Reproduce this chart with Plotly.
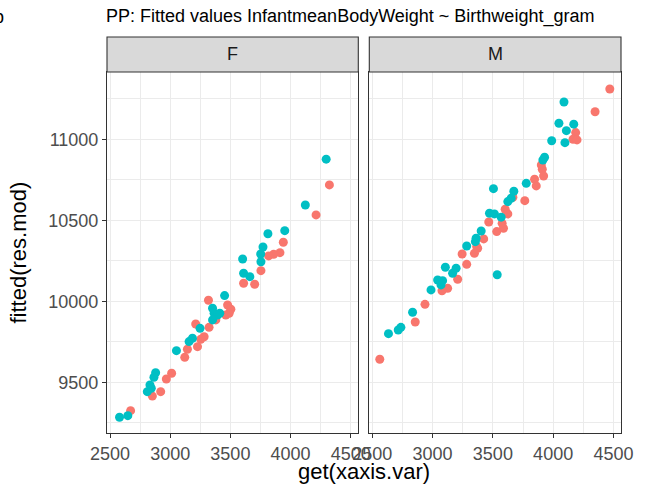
import plotly.graph_objects as go

# ---- data ----
panels = ["F", "M"]

F_teal_x = [4296, 4123, 3952, 3812, 3771, 3752, 3602, 3754, 3610, 3662, 3452, 3352, 3365, 3393, 3412, 3352,
            3248, 3185, 3157, 3052, 2879, 2865, 2832, 2810, 2843, 2648, 2579]
F_teal_y = [10877, 10594, 10436, 10417, 10335, 10292, 10261, 10244, 10173, 10152, 10035, 9957, 9926, 9915, 9926, 9885,
            9833, 9772, 9751, 9695, 9559, 9531, 9483, 9442, 9463, 9294, 9284]
F_sal_x = [4323, 4212, 3940, 3912, 3860, 3818, 3754, 3610, 3702, 3318, 3477, 3504, 3490, 3462, 3379, 3212,
           3323, 3282, 3254, 3227, 3143, 3121, 3012, 2968, 2921, 2852, 2671]
F_sal_y = [10718, 10533, 10364, 10300, 10290, 10280, 10189, 10111, 10105, 10006, 9977, 9951, 9926, 9915, 9885, 9860,
           9839, 9781, 9765, 9720, 9704, 9654, 9556, 9520, 9442, 9415, 9325]

M_teal_x = [4090, 4048, 4171, 4110, 3988, 4098, 3929, 3915, 3777, 3505, 3674, 3652, 3624, 3472, 3513, 3569,
            3403, 3361, 3283, 3355, 3536, 3106, 3195, 3166, 3042, 3083, 3070, 2987, 2834, 2737, 2715, 2634]
M_teal_y = [11230, 11099, 11093, 11053, 10991, 10979, 10889, 10872, 10728, 10695, 10679, 10636, 10615, 10543, 10539, 10519,
            10434, 10389, 10341, 10368, 10164, 10210, 10204, 10173, 10131, 10127, 10101, 10070, 9932, 9839, 9823, 9800]
M_sal_x = [4470, 4348, 4187, 4165, 4198, 3902, 3910, 3921, 3846, 3860, 3666, 3765, 3602, 3624, 3466, 3577,
           3588, 3532, 3424, 3366, 3374, 3347, 3245, 3283, 3208, 3125, 3078, 2937, 2856, 2562]
M_sal_y = [11310, 11170, 11041, 11000, 10996, 10841, 10815, 10773, 10753, 10712, 10642, 10621, 10568, 10539, 10489, 10481,
           10451, 10430, 10385, 10337, 10327, 10296, 10292, 10228, 10136, 10080, 10065, 9981, 9872, 9642]

x_ticks = [2500, 3000, 3500, 4000, 4500]
y_ticks = [9500, 10000, 10500, 11000]

title_text = "PP: Fitted values InfantmeanBodyWeight ~ Birthweight_gram"
x_title = "get(xaxis.var)"
y_title = "fitted(res.mod)"

SAL = "#F8766D"
TEAL = "#00BFC4"
FONT = "Liberation Sans, Arial, sans-serif"

fig = go.Figure()
series = [
    ("x", "y", F_sal_x, F_sal_y, SAL),
    ("x", "y", F_teal_x, F_teal_y, TEAL),
    ("x2", "y2", M_sal_x, M_sal_y, SAL),
    ("x2", "y2", M_teal_x, M_teal_y, TEAL),
]
for xa, ya, xs, ys, c in series:
    fig.add_trace(go.Scatter(x=xs, y=ys, xaxis=xa, yaxis=ya, mode="markers",
                             marker=dict(color=c, size=9, line=dict(width=0)),
                             showlegend=False, hoverinfo="x+y"))

W, H = 645, 493
ml, mr, mt, mb = 107, 24, 37, 60
pw = W - ml - mr
ph = H - mt - mb
f_dom = [0, (358.3 - ml) / pw]
m_dom = [(369.3 - ml) / pw, 1]
y_top = (433 - 72) / ph

xr = [2475, 4563]
yr = [9187, 11415]
TICKSIZE = 18

def xaxis_cfg(dom, anchor):
    return dict(domain=dom, range=xr, anchor=anchor, tickvals=x_ticks, ticktext=[str(v) for v in x_ticks],
                showgrid=True, gridcolor="#EBEBEB", gridwidth=1.1,
                minor=dict(dtick=250, tick0=2500, showgrid=True, gridcolor="#EBEBEB", gridwidth=0.6, ticks=""),
                zeroline=False, showline=True, mirror=True, linecolor="#333333", linewidth=1.1,
                ticks="outside", ticklen=4, tickwidth=1.1, tickcolor="#333333",
                tickfont=dict(family=FONT, size=TICKSIZE, color="#4D4D4D"))

def yaxis_cfg(anchor, show_labels):
    return dict(domain=[0, y_top], range=yr, anchor=anchor, tickvals=y_ticks,
                ticktext=[str(v) for v in y_ticks],
                showticklabels=show_labels,
                showgrid=True, gridcolor="#EBEBEB", gridwidth=1.1,
                minor=dict(dtick=250, tick0=9250, showgrid=True, gridcolor="#EBEBEB", gridwidth=0.6, ticks=""),
                zeroline=False, showline=True, mirror=True, linecolor="#333333", linewidth=1.1,
                ticks="outside" if show_labels else "", ticklen=4, tickwidth=1.1, tickcolor="#333333",
                tickfont=dict(family=FONT, size=TICKSIZE, color="#4D4D4D"))

fig.update_layout(
    width=W, height=H,
    margin=dict(l=ml, r=mr, t=mt, b=mb),
    paper_bgcolor="white", plot_bgcolor="white",
    font=dict(family=FONT, color="black"),
    xaxis=xaxis_cfg(f_dom, "y"),
    xaxis2=xaxis_cfg(m_dom, "y2"),
    yaxis=yaxis_cfg("x", True),
    yaxis2=yaxis_cfg("x2", False),
)

# strips
for dom, lab in zip([f_dom, m_dom], panels):
    fig.add_shape(type="rect", xref="paper", yref="paper", x0=dom[0], x1=dom[1], y0=y_top, y1=1,
                  fillcolor="#D9D9D9", line=dict(color="#333333", width=1.1), layer="above")
    fig.add_annotation(xref="paper", yref="paper", x=(dom[0] + dom[1]) / 2, y=(y_top + 1) / 2,
                       text=lab, showarrow=False, xanchor="center", yanchor="middle",
                       font=dict(family=FONT, size=TICKSIZE, color="#1A1A1A"))

# title
fig.add_annotation(xref="paper", yref="paper", x=-3 / pw, y=1 + 20 / ph, text=title_text, showarrow=False,
                   xanchor="left", yanchor="middle", font=dict(family=FONT, size=18, color="black"))
# tag (cut off at left edge)
fig.add_annotation(xref="paper", yref="paper", x=(6 - ml) / pw, y=1 + 20 / ph, text="b", showarrow=False,
                   xanchor="right", yanchor="middle", font=dict(family=FONT, size=18, color="black"))
# axis titles
fig.add_annotation(xref="paper", yref="paper", x=0.5, y=-(472 - 433) / ph, text=x_title, showarrow=False,
                   xanchor="center", yanchor="middle", font=dict(family=FONT, size=22, color="black"))
fig.add_annotation(xref="paper", yref="paper", x=(18 - ml) / pw, y=1 - ((433 + 72) / 2 - mt) / ph,
                   text=y_title, showarrow=False, textangle=-90,
                   xanchor="center", yanchor="middle", font=dict(family=FONT, size=22, color="black"))

fig.write_html("out.html")
